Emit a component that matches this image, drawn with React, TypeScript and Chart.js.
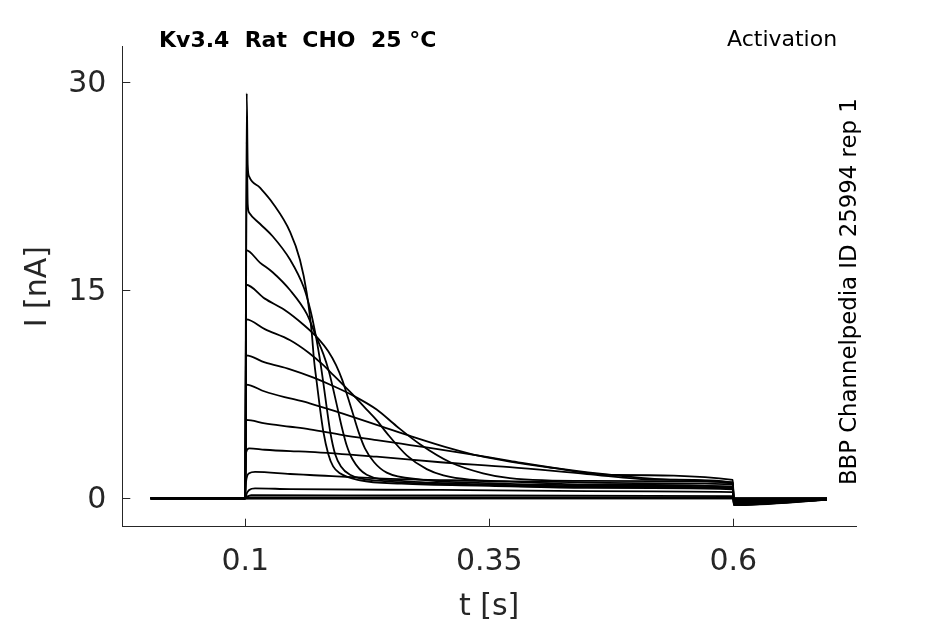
import React, { useEffect, useRef } from "react";
import { Chart, registerables } from "chart.js";

Chart.register(...registerables);

// ---- axis settings (values) ----
const xTickValues = [0.1, 0.35, 0.6];
const yTickValues = [0, 15, 30];
const xLimits = [-0.026, 0.7257];
const yLimits = [-2.05, 32.57];

const holding: [number, number][] = [[0.003, 0], [0.1, 0]];

const trace01: [number, number][] = [[0.1015, 29.2], [0.1025, 24.0], [0.104, 23.2], [0.115, 22.4], [0.128, 21.3], [0.146, 19.2], [0.156, 17.2], [0.163, 14.8], [0.168, 12.0], [0.1704, 10.0], [0.1735, 8.2], [0.1765, 6.5], [0.18, 4.8], [0.185, 3.2], [0.19, 2.3], [0.197, 1.8], [0.2175, 1.3], [0.26, 1.05], [0.35, 0.9], [0.45, 0.75], [0.5995, 0.65]];
const trace02: [number, number][] = [[0.1015, 25.7], [0.1025, 21.2], [0.104, 20.6], [0.115, 19.8], [0.128, 18.9], [0.146, 17.2], [0.16, 15.2], [0.1666, 13.6], [0.1715, 12.0], [0.1765, 10.0], [0.18, 8.3], [0.1835, 6.5], [0.187, 4.8], [0.192, 3.2], [0.198, 2.3], [0.2073, 1.7], [0.24, 1.25], [0.35, 0.95], [0.45, 0.8], [0.5995, 0.7]];
const trace03: [number, number][] = [[0.1008, 17.9], [0.115, 17.0], [0.128, 16.3], [0.146, 15.0], [0.163, 13.3], [0.173, 11.6], [0.18, 10.4], [0.1855, 9.2], [0.19, 7.9], [0.1945, 6.5], [0.199, 5.1], [0.2035, 3.9], [0.21, 2.8], [0.2244, 1.7], [0.26, 1.25], [0.35, 1.0], [0.45, 0.85], [0.5995, 0.75]];
const trace04: [number, number][] = [[0.1008, 15.4], [0.12, 14.4], [0.14, 13.6], [0.16, 12.5], [0.175, 11.5], [0.185, 10.6], [0.193, 9.6], [0.1995, 8.5], [0.205, 7.3], [0.2107, 6.0], [0.2165, 4.7], [0.2226, 3.6], [0.232, 2.6], [0.2449, 1.85], [0.28, 1.35], [0.35, 1.1], [0.45, 0.95], [0.5995, 0.85]];
const trace05: [number, number][] = [[0.1008, 12.9], [0.12, 12.2], [0.146, 11.4], [0.165, 10.5], [0.18, 9.6], [0.19, 8.9], [0.2, 8.2], [0.21, 7.5], [0.2244, 6.4], [0.235, 5.6], [0.245, 4.7], [0.2654, 3.1], [0.2859, 2.1], [0.303, 1.65], [0.33, 1.35], [0.4, 1.2], [0.5, 1.1], [0.5995, 1.0]];
const trace06: [number, number][] = [[0.1008, 10.3], [0.12, 9.8], [0.146, 9.3], [0.17, 8.7], [0.19, 8.1], [0.2107, 7.4], [0.2346, 6.4], [0.255, 5.2], [0.279, 3.9], [0.31, 2.6], [0.3436, 1.8], [0.371, 1.45], [0.45, 1.25], [0.5995, 1.15]];
const trace07: [number, number][] = [[0.1008, 8.2], [0.12, 7.7], [0.146, 7.2], [0.166, 6.85], [0.2, 6.1], [0.2346, 5.3], [0.2688, 4.5], [0.31, 3.6], [0.34, 3.05], [0.371, 2.64], [0.409, 2.24], [0.477, 1.68], [0.5995, 1.32]];
const trace08: [number, number][] = [[0.1008, 5.65], [0.12, 5.4], [0.146, 5.16], [0.166, 4.97], [0.2, 4.56], [0.2346, 4.2], [0.2688, 3.84], [0.32, 3.3], [0.371, 2.7], [0.42, 2.15], [0.48, 1.65], [0.54, 1.35], [0.5995, 1.15]];
const trace09: [number, number][] = [[0.1008, 3.3], [0.104, 3.6], [0.12, 3.5], [0.146, 3.4], [0.166, 3.35], [0.2346, 3.0], [0.3, 2.6], [0.371, 2.25], [0.45, 1.75], [0.52, 1.35], [0.5995, 1.05]];
const trace10: [number, number][] = [[0.1008, 1.2], [0.104, 1.8], [0.11, 1.9], [0.146, 1.75], [0.166, 1.68], [0.2346, 1.44], [0.371, 1.2], [0.45, 1.0], [0.5995, 0.8]];
const trace11: [number, number][] = [[0.1015, 0.35], [0.104, 0.6], [0.11, 0.72], [0.146, 0.66], [0.3, 0.6], [0.45, 0.52], [0.5995, 0.45]];
const trace12: [number, number][] = [[0.102, 0.12], [0.106, 0.22], [0.3, 0.2], [0.5995, 0.15]];
const trace13: [number, number][] = [[0.104, 0.06], [0.5995, 0.05]];
const trace14: [number, number][] = [[0.5995, 0.02]];
const trace15: [number, number][] = [[0.5995, 0]];
const trace16: [number, number][] = [[0.5995, 0]];

const traces = [trace01, trace02, trace03, trace04, trace05, trace06, trace07, trace08, trace09, trace10, trace11, trace12, trace13, trace14, trace15, trace16];

// tail currents after the step (t = 0.6005 s and t = 0.696 s)
const tailTimes = [0.6005, 0.696];
const tailStart = [-0.5, -0.48, -0.45, -0.42, -0.4, -0.36, -0.32, -0.28, -0.24, -0.18, -0.12, -0.06, -0.03, 0, 0, 0];
const tailEnd = [-0.12, -0.12, -0.1, -0.1, -0.1, -0.08, -0.08, -0.06, -0.06, -0.04, -0.03, -0.02, 0, 0, 0, 0];

// ---- texts ----
const titleText = "Kv3.4  Rat  CHO  25 °C";
const protocolText = "Activation";
const sourceText = "BBP Channelpedia ID 25994 rep 1";
const xTitle = "t [s]";
const yTitle = "I [nA]";

const FONT = '"DejaVu Sans", sans-serif';
const AXIS_COLOR = "#262626";

const decorPlugin = {
  id: "decor",
  afterDraw(chart: any) {
    const ctx = chart.ctx;
    const { left, bottom } = chart.chartArea;
    const xs = chart.scales.x;
    const ys = chart.scales.y;
    ctx.save();
    // inward tick marks
    ctx.strokeStyle = AXIS_COLOR;
    ctx.lineWidth = 1;
    ctx.beginPath();
    xTickValues.forEach((v) => {
      const px = Math.round(xs.getPixelForValue(v)) + 0.5;
      ctx.moveTo(px, bottom);
      ctx.lineTo(px, bottom - 8);
    });
    yTickValues.forEach((v) => {
      const py = Math.round(ys.getPixelForValue(v)) + 0.5;
      ctx.moveTo(left, py);
      ctx.lineTo(left + 8, py);
    });
    ctx.stroke();

    // axis titles
    ctx.fillStyle = AXIS_COLOR;
    ctx.font = `30px ${FONT}`;
    ctx.textAlign = "center";
    ctx.textBaseline = "alphabetic";
    ctx.fillText(xTitle, (chart.chartArea.left + chart.chartArea.right) / 2, 615);
    ctx.save();
    ctx.translate(46, (chart.chartArea.top + chart.chartArea.bottom) / 2);
    ctx.rotate(-Math.PI / 2);
    ctx.fillText(yTitle, 0, 0);
    ctx.restore();

    // header texts
    ctx.fillStyle = "#000";
    ctx.textAlign = "left";
    ctx.font = `bold 22px ${FONT}`;
    ctx.fillText(titleText, 159, 46.5);
    ctx.font = `22px ${FONT}`;
    ctx.fillText(protocolText, 727, 46);
    ctx.save();
    ctx.translate(856, 291.7);
    ctx.rotate(-Math.PI / 2);
    ctx.textAlign = "center";
    ctx.font = `22.8px ${FONT}`;
    ctx.fillText(sourceText, 0, 0);
    ctx.restore();
    ctx.restore();
  },
};

export default function App() {
  const canvasRef = useRef<HTMLCanvasElement | null>(null);

  useEffect(() => {
    if (!canvasRef.current) return;
    const datasets = traces.map((tr, i) => {
      const pts: [number, number][] = [
        ...holding,
        ...tr,
        [tailTimes[0], tailStart[i]],
        [tailTimes[1], tailEnd[i]],
      ];
      return {
        label: `sweep ${i + 1}`,
        data: pts.map(([x, y]) => ({ x, y })),
        showLine: true,
        borderColor: "#000",
        backgroundColor: "#000",
        borderWidth: 1.8,
        pointRadius: 0,
        pointHoverRadius: 0,
        cubicInterpolationMode: "monotone" as const,
        fill: false,
      };
    });

    const chart = new Chart(canvasRef.current, {
      type: "scatter",
      data: { datasets },
      options: {
        animation: false,
        responsive: true,
        maintainAspectRatio: false,
        layout: { padding: { top: 46.7, right: 89, left: 0, bottom: 0 } },
        plugins: {
          legend: { display: false },
          tooltip: { enabled: false },
          title: { display: false },
        },
        scales: {
          x: {
            type: "linear",
            min: xLimits[0],
            max: xLimits[1],
            afterBuildTicks: (s: any) => {
              s.ticks = xTickValues.map((v) => ({ value: v }));
            },
            afterFit: (s: any) => {
              s.height = 97.3;
            },
            grid: { display: false },
            border: { display: true, color: AXIS_COLOR, width: 1 },
            ticks: {
              color: AXIS_COLOR,
              font: { family: FONT, size: 30 },
              padding: 10,
              maxRotation: 0,
              autoSkip: false,
              callback: (v: any) => String(v),
            },
          },
          y: {
            type: "linear",
            min: yLimits[0],
            max: yLimits[1],
            afterBuildTicks: (s: any) => {
              s.ticks = yTickValues.map((v) => ({ value: v }));
            },
            afterFit: (s: any) => {
              s.width = 122.3;
            },
            grid: { display: false },
            border: { display: true, color: AXIS_COLOR, width: 1 },
            ticks: {
              color: AXIS_COLOR,
              font: { family: FONT, size: 30 },
              padding: 8,
              labelOffset: 2,
              autoSkip: false,
              callback: (v: any) => String(v),
            },
          },
        },
      },
      plugins: [decorPlugin],
    });
    return () => chart.destroy();
  }, []);

  return (
    <div style={{ position: "fixed", left: 0, top: 0, width: 945, height: 624, background: "#fff" }}>
      <canvas ref={canvasRef} />
    </div>
  );
}
